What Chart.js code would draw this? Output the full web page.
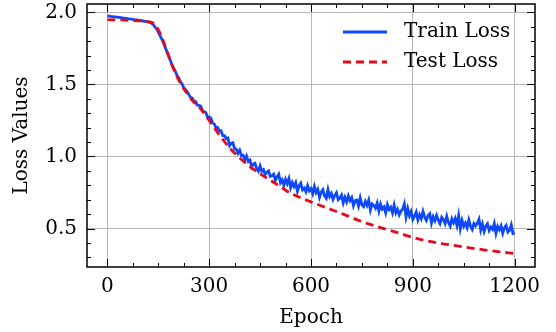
<!DOCTYPE html>
<html>
<head>
<meta charset="utf-8">
<script src="https://cdn.jsdelivr.net/npm/chart.js@4.4.1/dist/chart.umd.min.js"></script>
<style>
  html, body { margin: 0; padding: 0; background: #fff; }
  canvas { display: block; }
</style>
</head>
<body>
<canvas id="lossChart" width="556" height="332"></canvas>
<script>
// --- data ---
const trainStep = 5;  // train loss sampled every 5 epochs, 0..1200
const trainLoss = [
  1.975, 1.974, 1.972, 1.971, 1.969, 1.968, 1.966, 1.965, 1.963, 1.961,
  1.960, 1.958, 1.956, 1.955, 1.953, 1.951, 1.950, 1.948, 1.946, 1.944,
  1.942, 1.940, 1.938, 1.936, 1.933, 1.930, 1.925, 1.915, 1.900, 1.885,
  1.865, 1.840, 1.815, 1.790, 1.760, 1.730, 1.700, 1.670, 1.640, 1.614,
  1.592, 1.563, 1.547, 1.520, 1.503, 1.477, 1.465, 1.451, 1.429, 1.411,
  1.405, 1.384, 1.381, 1.356, 1.354, 1.350, 1.320, 1.311, 1.305, 1.273,
  1.274, 1.266, 1.233, 1.226, 1.200, 1.201, 1.178, 1.179, 1.145, 1.145,
  1.123, 1.128, 1.075, 1.092, 1.095, 1.052, 1.050, 1.022, 1.043, 1.007,
  1.008, 0.975, 1.003, 0.966, 0.975, 0.928, 0.947, 0.953, 0.916, 0.898,
  0.935, 0.897, 0.908, 0.875, 0.891, 0.900, 0.862, 0.866, 0.877, 0.834,
  0.858, 0.877, 0.818, 0.838, 0.801, 0.841, 0.811, 0.847, 0.784, 0.818,
  0.791, 0.818, 0.759, 0.797, 0.815, 0.769, 0.780, 0.755, 0.798, 0.762,
  0.777, 0.742, 0.792, 0.750, 0.772, 0.716, 0.752, 0.769, 0.727, 0.710,
  0.770, 0.722, 0.743, 0.702, 0.730, 0.748, 0.700, 0.711, 0.732, 0.677,
  0.716, 0.685, 0.727, 0.693, 0.714, 0.659, 0.694, 0.698, 0.657, 0.713,
  0.665, 0.652, 0.688, 0.661, 0.697, 0.628, 0.671, 0.661, 0.641, 0.677,
  0.622, 0.669, 0.635, 0.650, 0.609, 0.666, 0.632, 0.647, 0.609, 0.663,
  0.608, 0.633, 0.595, 0.621, 0.635, 0.671, 0.581, 0.638, 0.589, 0.618,
  0.563, 0.586, 0.614, 0.560, 0.596, 0.569, 0.619, 0.579, 0.556, 0.591,
  0.603, 0.538, 0.582, 0.554, 0.591, 0.557, 0.534, 0.578, 0.561, 0.534,
  0.585, 0.541, 0.517, 0.567, 0.541, 0.570, 0.522, 0.589, 0.500, 0.557,
  0.516, 0.539, 0.506, 0.560, 0.517, 0.494, 0.534, 0.519, 0.538, 0.565,
  0.490, 0.531, 0.480, 0.517, 0.533, 0.486, 0.510, 0.494, 0.535, 0.466,
  0.514, 0.492, 0.519, 0.468, 0.506, 0.522, 0.475, 0.488, 0.525, 0.465,
  0.470
];
const testEpochs = [0, 60, 120, 135, 150, 165, 180, 200, 220, 250, 275, 300, 330, 360, 390,
  420, 450, 480, 510, 540, 570, 600, 650, 700, 750, 800, 850, 900, 950, 1000, 1050, 1100, 1150, 1200];
const testLoss = [1.950, 1.945, 1.935, 1.925, 1.880, 1.800, 1.700, 1.580, 1.490, 1.390, 1.330, 1.250, 1.150, 1.060, 0.990,
  0.930, 0.880, 0.835, 0.790, 0.745, 0.713, 0.685, 0.640, 0.595, 0.548, 0.510, 0.475, 0.438, 0.410, 0.390, 0.372, 0.355, 0.340, 0.326];

const xTicks = [0, 300, 600, 900, 1200];
const yTicks = [0.5, 1.0, 1.5, 2.0];
const xMinor = [];
for (let v = 0; v <= 1200; v += 75) xMinor.push(v);
const yMinor = [];
for (let v = 3; v <= 20; v++) yMinor.push(v / 10);

const trainLabel = 'Train Loss';
const testLabel = 'Test Loss';
const blue = '#0d49fb';
const red = '#e6091c';
const fontFamily = '"DejaVu Serif", serif';

const trainPoints = trainLoss.map((y, i) => ({ x: i * trainStep, y: y }));
const testPoints = testLoss.map((y, i) => ({ x: testEpochs[i], y: y }));

// white background
const bgPlugin = {
  id: 'bg',
  beforeDraw(chart) {
    const c = chart.ctx;
    c.save();
    c.fillStyle = '#fff';
    c.fillRect(0, 0, chart.width, chart.height);
    c.restore();
  }
};

// box frame + inward ticks on all four sides, and the legend
const framePlugin = {
  id: 'frame',
  afterDatasetsDraw(chart) {
    const c = chart.ctx;
    const a = chart.chartArea;
    const xs = chart.scales.x, ys = chart.scales.y;
    c.save();
    c.strokeStyle = '#000';
    c.lineWidth = 1;
    c.beginPath();
    xTicks.forEach(v => {
      const px = Math.round(xs.getPixelForValue(v)) + 0.5;
      c.moveTo(px, a.bottom); c.lineTo(px, a.bottom - 8);
      c.moveTo(px, a.top); c.lineTo(px, a.top + 8);
    });
    xMinor.forEach(v => {
      if (v % 300 === 0) return;
      const px = Math.round(xs.getPixelForValue(v)) + 0.5;
      c.moveTo(px, a.bottom); c.lineTo(px, a.bottom - 4);
      c.moveTo(px, a.top); c.lineTo(px, a.top + 4);
    });
    yTicks.forEach(v => {
      const py = Math.round(ys.getPixelForValue(v)) + 0.5;
      c.moveTo(a.left, py); c.lineTo(a.left + 8, py);
      c.moveTo(a.right, py); c.lineTo(a.right - 8, py);
    });
    yMinor.forEach(v => {
      if (Math.round(v * 10) % 5 === 0) return;
      const py = Math.round(ys.getPixelForValue(v)) + 0.5;
      c.moveTo(a.left, py); c.lineTo(a.left + 4, py);
      c.moveTo(a.right, py); c.lineTo(a.right - 4, py);
    });
    c.stroke();
    c.lineWidth = 1.5;
    c.strokeRect(a.left, a.top, a.right - a.left, a.bottom - a.top);

    // legend
    c.font = '20px ' + fontFamily;
    c.textBaseline = 'middle';
    c.fillStyle = '#000';
    c.lineWidth = 2.8;
    c.strokeStyle = blue;
    c.beginPath(); c.moveTo(343, 32); c.lineTo(387, 32); c.stroke();
    c.strokeStyle = red;
    c.setLineDash([8, 5]);
    c.beginPath(); c.moveTo(343, 62); c.lineTo(387, 62); c.stroke();
    c.setLineDash([]);
    c.fillText(trainLabel, 404, 32);
    c.fillText(testLabel, 404, 62);
    c.restore();
  }
};

const chart = new Chart(document.getElementById('lossChart'), {
  type: 'line',
  data: {
    datasets: [
      {
        label: trainLabel,
        data: trainPoints,
        borderColor: blue,
        borderWidth: 2.8,
        pointRadius: 0,
        tension: 0,
        order: 1
      },
      {
        label: testLabel,
        data: testPoints,
        borderColor: red,
        borderWidth: 2.8,
        borderDash: [8, 5],
        pointRadius: 0,
        cubicInterpolationMode: 'monotone',
        order: 0
      }
    ]
  },
  options: {
    responsive: false,
    animation: false,
    events: [],
    layout: { autoPadding: false, padding: { left: 0, right: 21, top: 4, bottom: 0 } },
    plugins: { legend: { display: false }, tooltip: { enabled: false } },
    scales: {
      x: {
        type: 'linear',
        min: -60,
        max: 1260,
        afterBuildTicks: s => { s.ticks = xTicks.map(v => ({ value: v })); },
        afterFit: s => { s.height = 65; s.paddingLeft = 0; s.paddingRight = 0; },
        grid: { color: '#b8b8b8', lineWidth: 1, drawTicks: false },
        border: { display: false },
        ticks: {
          color: '#000',
          padding: 8,
          maxRotation: 0,
          font: { family: fontFamily, size: 20 },
          callback: v => String(v)
        },
        title: {
          display: true,
          text: 'Epoch',
          color: '#000',
          padding: { top: 0, bottom: 2 },
          font: { family: fontFamily, size: 20 }
        }
      },
      y: {
        min: 0.233,
        max: 2.058,
        afterBuildTicks: s => { s.ticks = yTicks.map(v => ({ value: v })); },
        afterFit: s => { s.width = 87; s.paddingTop = 0; s.paddingBottom = 0; },
        grid: { color: '#b8b8b8', lineWidth: 1, drawTicks: false },
        border: { display: false },
        ticks: {
          color: '#000',
          padding: 10,
          font: { family: fontFamily, size: 20 },
          callback: v => v.toFixed(1)
        },
        title: {
          display: true,
          text: 'Loss Values',
          color: '#000',
          padding: { top: 10, bottom: 0 },
          font: { family: fontFamily, size: 20 }
        }
      }
    }
  },
  plugins: [bgPlugin, framePlugin]
});
</script>
</body>
</html>
